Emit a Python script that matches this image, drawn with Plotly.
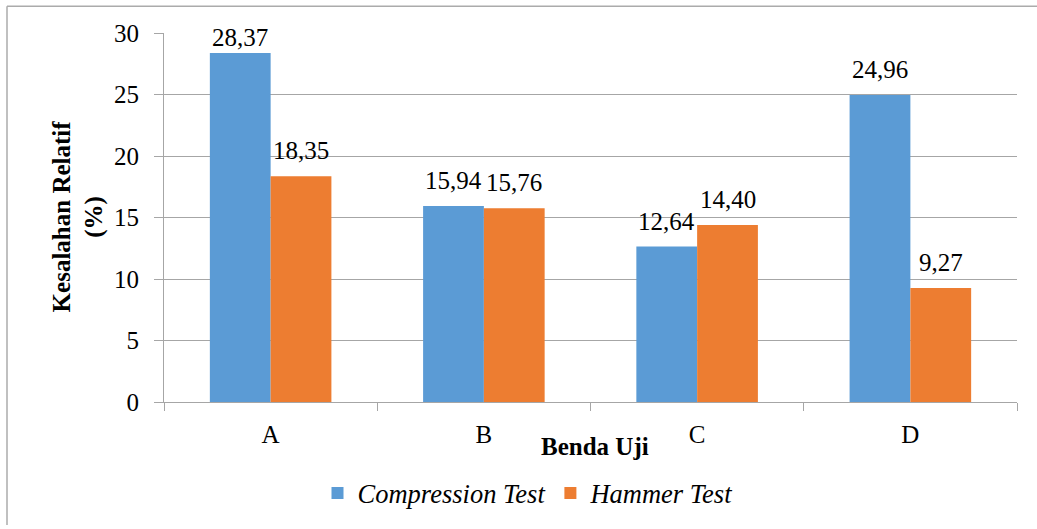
import plotly.graph_objects as go

categories = ["A", "B", "C", "D"]
compression = [28.37, 15.94, 12.64, 24.96]
hammer = [18.35, 15.76, 14.40, 9.27]
series_names = ["Compression Test", "Hammer Test"]
colors = ["#5B9BD5", "#ED7D31"]

W, H = 1037, 529
L, R, T, B = 164, 20, 33, 124
PW, PH = W - L - R, H - T - B
FONT = "Liberation Serif, Times New Roman, serif"
BARGAP = 0.43


def px_x(px):
    return (px - L) / PW


def px_y(py):
    return (H - B - py) / PH


def fmt(v):
    return f"{v:.2f}".replace(".", ",")


fig = go.Figure()
for name, vals, col in zip(series_names, [compression, hammer], colors):
    fig.add_trace(go.Bar(
        x=categories, y=vals, name=f"<i>{name}</i>",
        marker=dict(color=col, line=dict(width=0)),
    ))

# data labels positioned from the data through the axis scales
half = (1 - BARGAP) / 2 / 2
annotations = []
for k, vals in enumerate([compression, hammer]):
    off = -half if k == 0 else half
    for j, v in enumerate(vals):
        annotations.append(dict(
            x=j + off, y=v, xref="x", yref="y", text=fmt(v), showarrow=False,
            yanchor="bottom", yshift=10 if v < 27 else 0,
            font=dict(family=FONT, size=25, color="black"),
        ))

annotations.append(dict(
    x=px_x(78), y=0.503, xref="paper", yref="paper",
    text="<b>Kesalahan Relatif<br>(%)</b>", textangle=-90, showarrow=False,
    xanchor="center", yanchor="middle",
    font=dict(family=FONT, size=25, color="black"),
))
annotations.append(dict(
    x=px_x(595), y=px_y(450), xref="paper", yref="paper",
    text="<b>Benda Uji</b>", showarrow=False,
    xanchor="center", yanchor="middle",
    font=dict(family=FONT, size=25, color="black"),
))

fig.update_layout(
    width=W, height=H,
    margin=dict(l=L, r=R, t=T, b=B),
    paper_bgcolor="white", plot_bgcolor="white",
    barmode="group", bargap=BARGAP, bargroupgap=0,
    font=dict(family=FONT, size=25, color="black"),
    showlegend=True,
    legend=dict(
        orientation="h", x=px_x(528), xanchor="center",
        y=px_y(497), yanchor="middle",
        font=dict(family=FONT, size=26.5, color="black"),
        bgcolor="rgba(0,0,0,0)",
    ),
    annotations=annotations,
    shapes=[
        dict(type="line", xref="paper", yref="paper",
             x0=px_x(7), x1=px_x(7), y0=px_y(6), y1=px_y(529),
             line=dict(color="#ABABAB", width=1.5)),
        dict(type="line", xref="paper", yref="paper",
             x0=px_x(7), x1=px_x(1037), y0=px_y(6), y1=px_y(6),
             line=dict(color="#ABABAB", width=1.5)),
    ],
)

fig.update_xaxes(
    type="category", tickson="boundaries", ticks="outside", ticklen=8,
    tickcolor="#A6A6A6", showline=True, linecolor="#A6A6A6", linewidth=1,
    showgrid=False, ticklabelstandoff=10,
    tickfont=dict(family=FONT, size=25, color="black"),
)
fig.update_yaxes(
    range=[0, 30], dtick=5, ticks="outside", ticklen=9, tickcolor="#A6A6A6",
    showline=True, linecolor="#A6A6A6", linewidth=1,
    showgrid=True, gridcolor="#A6A6A6", gridwidth=1, zeroline=False,
    ticklabelstandoff=10,
    tickfont=dict(family=FONT, size=25, color="black"),
)

fig.write_html("out.html")
